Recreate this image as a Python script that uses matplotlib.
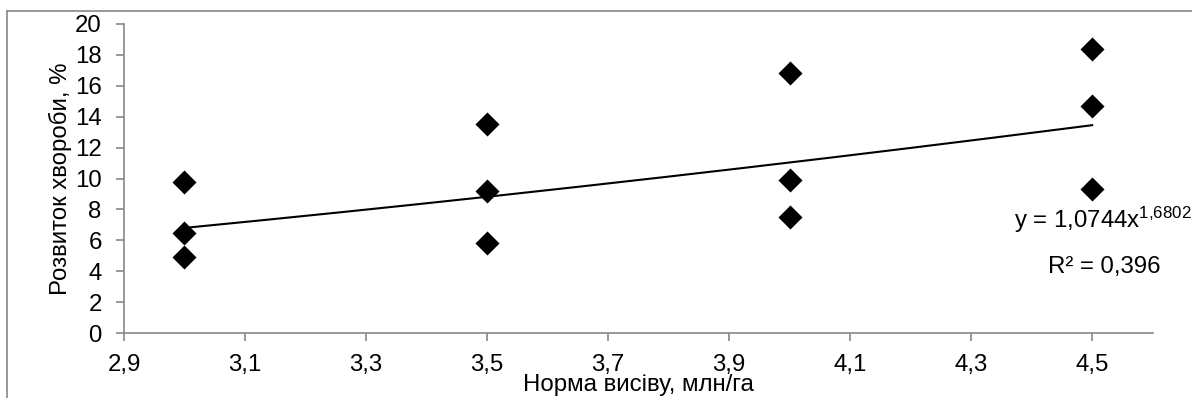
import matplotlib
matplotlib.use("Agg")
import matplotlib.pyplot as plt
from matplotlib.lines import Line2D
import numpy as np

plt.rcParams['font.family'] = ['Liberation Sans', 'DejaVu Sans']
plt.rcParams['mathtext.fontset'] = 'custom'
plt.rcParams['mathtext.rm'] = 'Liberation Sans'
plt.rcParams['mathtext.default'] = 'regular'

x_vals = [3.0, 3.0, 3.0, 3.5, 3.5, 3.5, 4.0, 4.0, 4.0, 4.5, 4.5, 4.5]
y_vals = [9.8, 6.5, 4.9, 13.5, 9.2, 5.8, 16.8, 9.9, 7.5, 18.4, 14.7, 9.3]
coef_a = 1.0744
coef_b = 1.6802
r2_text = "0,396"
x_ticks = [2.9, 3.1, 3.3, 3.5, 3.7, 3.9, 4.1, 4.3, 4.5]
x_tick_labels = ["2,9", "3,1", "3,3", "3,5", "3,7", "3,9", "4,1", "4,3", "4,5"]
y_ticks = [0, 2, 4, 6, 8, 10, 12, 14, 16, 18, 20]

FS = 17.3

fig = plt.figure(figsize=(11.92, 3.98), dpi=100)
ax = fig.add_axes([0.104, 0.163, 0.863, 0.777])

ax.scatter(x_vals, y_vals, marker='D', s=150, color='black', zorder=3, linewidths=0)

xt = np.linspace(min(x_vals), max(x_vals), 200)
ax.plot(xt, coef_a * xt ** coef_b, color='black', lw=1.5, zorder=2)

ax.set_xlim(2.9, 4.6)
ax.set_ylim(0, 20)
ax.set_xticks(x_ticks)
ax.set_xticklabels(x_tick_labels)
ax.set_yticks(y_ticks)
ax.tick_params(axis='both', labelsize=FS, color='#888888', length=6, width=1.2, direction='out')
ax.tick_params(axis='x', pad=9)
ax.tick_params(axis='y', pad=10)
for s in ['top', 'right']:
    ax.spines[s].set_visible(False)
for s in ['left', 'bottom']:
    ax.spines[s].set_color('#888888')
    ax.spines[s].set_linewidth(1.2)

ax.set_xlabel("Норма висіву, млн/га", fontsize=FS, labelpad=-1.5)
ax.set_ylabel("Розвиток хвороби, %", fontsize=FS, labelpad=2.5)

ax.text(4.664, 7.3, "y = 1,0744x$^{1{,}6802}$", fontsize=FS, ha='right', va='center',
        clip_on=False)
ax.text(4.52, 4.25, "R² = " + r2_text, fontsize=FS, ha='center', va='center')

fig.add_artist(Line2D([7/1192, 1.0], [1 - 11/398, 1 - 11/398], color='#888888', lw=1.2,
                      transform=fig.transFigure))
fig.add_artist(Line2D([7/1192, 7/1192], [0, 1 - 11/398], color='#888888', lw=1.2,
                      transform=fig.transFigure))

fig.savefig("out.png", dpi=100)
